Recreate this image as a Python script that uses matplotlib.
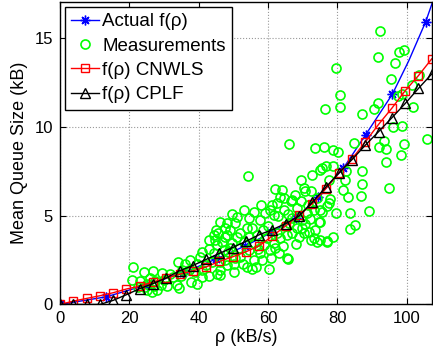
import numpy as np
import matplotlib.pyplot as plt

# rho grid of the two fitted curves (kB/s)
rho_fit = [0.0, 3.83, 7.66, 11.49, 15.32, 19.15, 22.98, 26.81, 30.64, 34.47,
           38.3, 42.13, 45.96, 49.79, 53.62, 57.45, 61.28, 65.11, 68.94, 72.77,
           76.6, 80.43, 84.26, 88.09, 91.92, 95.75, 99.58, 103.41, 107.24]

# f(rho) CNWLS
q_cnwls = [0.0, 0.19, 0.34, 0.49, 0.66, 0.87, 1.03, 1.26, 1.49, 1.7,
           1.89, 2.11, 2.42, 2.68, 2.96, 3.3, 3.85, 4.42, 5.02, 5.66,
           6.49, 7.39, 8.19, 9.15, 10.13, 11.04, 12.02, 12.87, 13.81]

# f(rho) CPLF
q_cplf = [0.0, 0.0, 0.0, 0.0, 0.23, 0.55, 0.89, 1.17, 1.49, 1.89,
          2.19, 2.53, 2.87, 3.2, 3.55, 3.92, 4.21, 4.55, 4.97, 5.74,
          6.58, 7.39, 8.15, 8.96, 9.72, 10.5, 11.3, 12.15, 12.96]

# actual f(rho)
rho_act = [0.0, 13.3, 25.0, 35.5, 45.0, 53.5, 61.0, 68.0, 74.5, 81.7,
           88.2, 95.9, 100.6, 105.5, 108.0]
q_act = [0.0, 0.43, 1.1, 1.78, 2.55, 3.3, 4.05, 4.85, 6.05, 7.65,
         9.55, 11.83, 13.7, 15.9, 17.3]
act_marks = [0, 1, 2, 3, 4, 5, 6, 7, 8, 9, 10, 11, 13]

# measurements
meas_rho = [21.0, 24.3, 20.9, 23.1, 24.6, 25.0, 26.5, 28.0, 27.0, 25.0,
            29.9, 29.4, 33.7, 34.2, 33.9, 32.6, 36.1, 37.1, 39.0, 37.8,
            37.6, 40.5, 40.9, 40.9, 42.9, 45.3, 43.8, 44.3, 44.8, 45.3,
            46.1, 45.7, 42.9, 39.5, 40.9, 46.2, 46.2, 47.2, 48.2, 35.2,
            27.5, 31.0, 26.0,
            53.0, 54.4, 50.6, 48.2, 57.8, 59.2, 60.7, 61.6, 61.2, 62.6,
            64.5, 66.5, 67.0, 69.8, 71.3, 73.2, 75.1, 74.7, 71.8, 72.3,
            74.2, 77.1, 70.3, 69.8, 65.5, 60.2, 55.4, 54.0, 50.1, 48.2,
            50.1, 46.2, 55.9, 58.3, 57.8, 60.7, 63.1, 61.6, 63.6, 62.6,
            65.5, 67.0, 68.4, 59.7, 58.8, 55.9, 54.4, 52.0, 49.1, 47.7,
            49.6, 51.5, 54.4, 52.0, 48.6, 47.7, 56.4, 65.7,
            54.1, 61.9, 64.0, 63.6, 64.5, 67.0, 67.9, 70.3, 70.8, 69.4,
            69.4, 72.7, 75.1, 75.6, 76.6, 78.8, 77.6, 82.1, 87.2, 82.4,
            87.2, 94.9, 81.7, 86.9, 83.0, 78.0, 77.6, 75.6, 79.5, 83.8,
            89.1, 75.1, 85.0, 83.6, 78.8, 76.9, 75.0, 73.2, 77.1,
            66.0, 73.7, 76.1, 78.8, 80.1, 84.8, 92.0, 93.6, 94.1, 99.1,
            98.5, 93.9, 106.0, 96.0, 98.8,
            76.4, 80.9, 87.1, 90.5, 91.8, 101.8, 97.6, 98.7, 101.6, 103.7,
            95.6, 96.5, 91.7, 97.9, 99.2, 92.3, 79.5, 80.8,
            42.0, 44.5, 46.8, 48.9, 50.5, 51.0, 53.2, 52.8, 56.8, 57.2,
            58.5, 60.0, 61.0, 62.0, 64.2, 64.8, 66.2, 68.0, 69.0, 70.8,
            72.0, 73.5, 74.0, 72.5, 71.5, 68.5, 65.8, 63.0, 58.0, 56.0,
            55.5, 53.8, 51.2, 49.5, 47.5, 45.0, 43.0, 39.5, 35.0, 31.8,
            29.0, 26.8, 22.5]
meas_q = [2.13, 1.83, 1.36, 1.31, 0.98, 0.79, 0.7, 0.84, 1.02, 1.17,
          1.36, 1.78, 1.08, 0.9, 2.39, 1.55, 2.3, 1.92, 1.83, 1.26,
          2.49, 2.68, 2.96, 1.92, 1.62, 1.74, 2.39, 3.9, 3.62, 3.34,
          4.66, 4.0, 3.62, 1.17, 1.55, 1.92, 2.39, 3.06, 3.9, 1.92,
          1.3, 1.05, 1.5,
          5.32, 4.85, 4.57, 4.57, 4.75, 5.13, 5.32, 5.04, 5.6, 5.73,
          5.32, 5.79, 4.85, 4.75, 5.13, 5.32, 5.32, 4.66, 4.09, 3.62,
          3.53, 3.53, 4.0, 4.28, 2.59, 2.02, 2.02, 2.11, 1.83, 2.21,
          2.3, 1.64, 2.49, 2.49, 2.87, 3.06, 2.87, 3.43, 3.72, 4.0,
          3.9, 4.0, 4.28, 3.72, 3.34, 3.43, 3.81, 4.0, 4.19, 3.81,
          3.43, 3.15, 3.06, 2.68, 2.96, 2.49, 2.11, 2.53,
          7.2, 6.49, 6.45, 6.07, 5.98, 5.89, 6.17, 6.55, 6.36, 5.79,
          7.02, 7.3, 7.58, 7.68, 7.81, 7.77, 7.02, 7.02, 7.49, 7.51,
          6.79, 6.55, 6.41, 6.11, 6.04, 5.92, 5.7, 5.22, 5.13, 5.13,
          5.26, 4.66, 4.47, 4.23, 3.81, 3.55, 3.6, 3.72, 5.51,
          9.05, 8.77, 8.87, 8.7, 8.6, 9.1, 8.88, 9.17, 8.72, 9.0,
          8.43, 8.01, 9.28, 10.0, 10.03,
          11.0, 11.1, 10.73, 11.0, 11.35, 11.08, 11.7, 11.85, 12.35, 12.93,
          12.7, 13.6, 13.9, 14.2, 14.3, 15.4, 13.3, 11.8,
          2.2, 2.9, 3.5, 3.2, 2.6, 3.8, 3.5, 2.3, 3.9, 3.1,
          4.2, 4.4, 2.6, 3.2, 3.3, 4.4, 4.6, 3.4, 3.8, 4.5,
          4.8, 4.2, 6.0, 6.4, 5.6, 5.4, 5.1, 5.0, 5.6, 5.2,
          4.3, 4.3, 4.9, 5.1, 4.3, 4.2, 3.1, 2.3, 1.6, 1.7,
          1.1, 1.9, 1.0]

xticks = [0, 20, 40, 60, 80, 100]
yticks = [0, 5, 10, 15]

plt.rcParams['font.family'] = ['Liberation Sans', 'DejaVu Sans']

fig = plt.figure(figsize=(4.33, 3.52), dpi=100)
ax = fig.add_axes([0.1386, 0.135, 0.859, 0.859])

# MATLAB style asterisk: + and x together
ax.plot(rho_act, q_act, color='blue', marker=(8, 2, 0), markersize=7,
        markeredgewidth=1.0, linewidth=1.0, markevery=act_marks,
        label='Actual f(ρ)')
ax.plot(meas_rho, meas_q, linestyle='none', marker='o', markersize=6.5,
        markerfacecolor='none', markeredgecolor=(0, 1, 0),
        markeredgewidth=1.2, label='Measurements')
ax.plot(rho_fit, q_cnwls, color='red', marker='s', markersize=6,
        markerfacecolor='none', linewidth=1.0, label='f(ρ) CNWLS')
ax.plot(rho_fit, q_cplf, color='black', marker='^', markersize=7,
        markerfacecolor='none', linewidth=1.0, label='f(ρ) CPLF')

ax.set_xlim(0, 107.3)
ax.set_ylim(0, 17)
ax.set_xticks(xticks)
ax.set_yticks(yticks)
ax.tick_params(direction='in', length=4, labelsize=12, pad=5,
               top=True, right=True)
ax.grid(True, linestyle=':', color='0.6', linewidth=0.8)
for s in ax.spines.values():
    s.set_linewidth(1.0)

ax.set_xlabel('ρ (kB/s)', fontsize=13, labelpad=2)
ax.set_ylabel('Mean Queue Size (kB)', fontsize=13, labelpad=5)

leg = ax.legend(loc='upper left', fontsize=13.5, frameon=True, fancybox=False,
                edgecolor='black', framealpha=1, borderaxespad=0.25,
                handlelength=1.5, handletextpad=0.15, labelspacing=0.38,
                borderpad=0.35)
leg.get_frame().set_linewidth(1.0)

fig.savefig('out.png', dpi=100)
